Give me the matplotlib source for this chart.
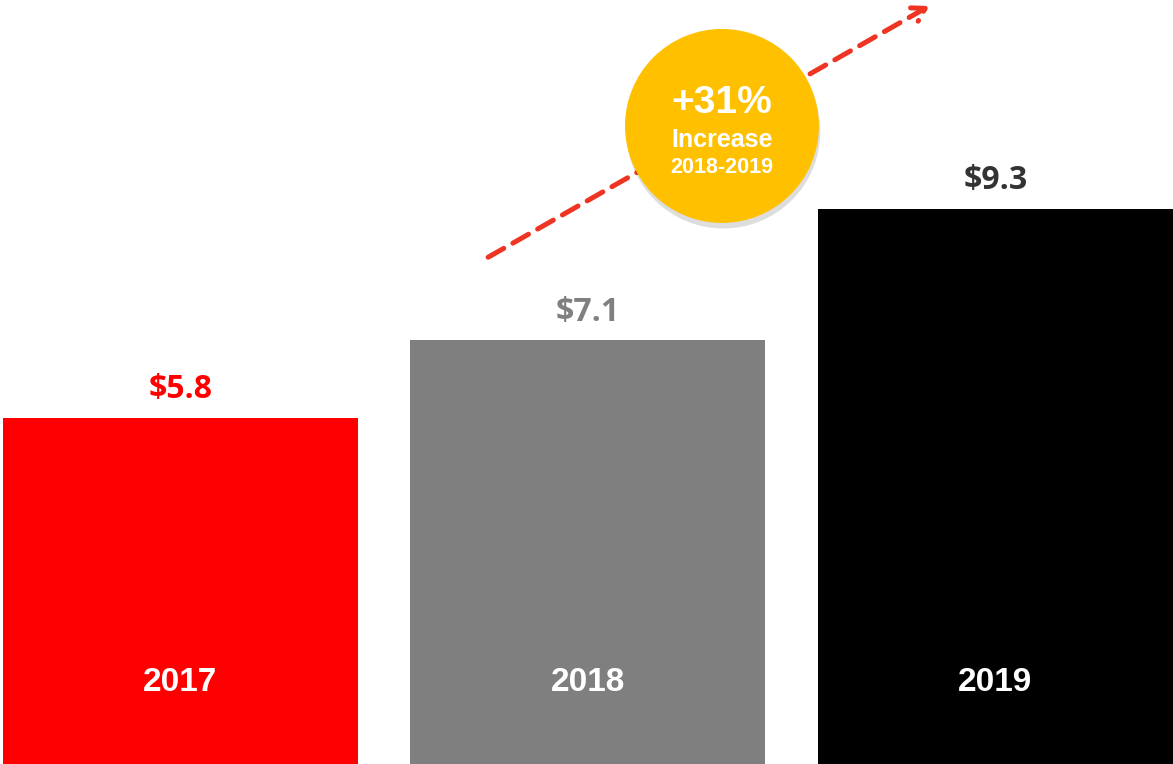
import matplotlib.pyplot as plt
import matplotlib.patheffects as pe
from matplotlib.patches import Ellipse

# data
years = ['2017', '2018', '2019']
revenue = [5.8, 7.1, 9.3]
value_labels = ['$5.8', '$7.1', '$9.3']
bar_colors = ['#FF0000', '#7F7F7F', '#000000']
label_colors = ['#FF0000', '#808080', '#333333']

fig = plt.figure(figsize=(11.73, 7.64), dpi=100)
ax = fig.add_axes([0, 0, 1, 1])

x = list(range(len(years)))
ax.bar(x, revenue, width=0.871, color=bar_colors, zorder=2)

# value labels above the bars
for i, v in enumerate(revenue):
    ax.text(i, v + 0.47, value_labels[i], ha='center', va='center',
            fontsize=23, fontweight='bold', color=label_colors[i],
            family=['Open Sans', 'DejaVu Sans'])
    # year labels inside the bars
    ax.text(i, 1.36, years[i], ha='center', va='center',
            fontsize=24, fontweight='bold', color='white',
            family='Liberation Sans')

# dashed trend arrow
ax.annotate('', xy=(1.838, 12.70), xytext=(0.755, 8.49),
            arrowprops=dict(arrowstyle='->,head_length=0.9,head_width=0.55',
                            color='#EE3524', lw=3.6, linestyle=(0, (3.6, 2.1)),
                            shrinkA=0, shrinkB=0),
            zorder=3)

# growth badge
badge = Ellipse((1.329, 10.69), width=0.476, height=3.25, facecolor='#FFC000',
                edgecolor='none', zorder=4,
                path_effects=[pe.SimplePatchShadow(offset=(1, -4), alpha=0.2,
                                                   shadow_rgbFace='#555555'),
                              pe.Normal()])
ax.add_patch(badge)
ax.text(1.329, 11.08, '+31%', ha='center', va='center', fontsize=28,
        fontweight='bold', color='white', family='Liberation Sans', zorder=5)
ax.text(1.329, 10.45, 'Increase', ha='center', va='center', fontsize=18,
        fontweight='bold', color='white', family='Liberation Sans', zorder=5)
ax.text(1.329, 10.0, '2018-2019', ha='center', va='center', fontsize=15.5,
        fontweight='bold', color='white', family='Liberation Sans', zorder=5)

ax.set_xlim(-0.443, 2.436)
ax.set_ylim(0, 12.8)
ax.axis('off')

fig.savefig('out.png', dpi=100)
